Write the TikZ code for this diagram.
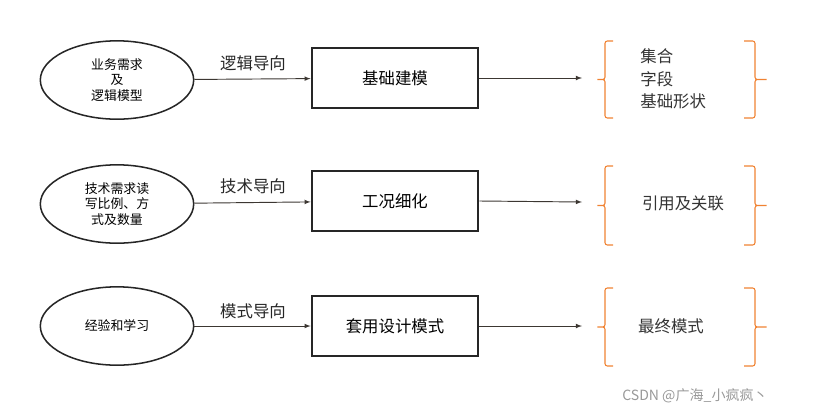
\documentclass[tikz,border=0pt]{standalone}
\usepackage{fontspec}
\setmainfont{Noto Sans CJK SC}
\usetikzlibrary{shapes.geometric}
\definecolor{braceorange}{RGB}{240,130,50}
\definecolor{linegray}{RGB}{60,55,50}
\begin{document}
\begin{tikzpicture}[x=0.03cm,y=-0.03cm,>=latex,thick]
\tikzset{
  src/.style={draw=black!85,line width=1.3pt,ellipse,minimum width=4.6cm,minimum height=2.35cm,inner sep=0pt,align=center,font=\fontsize{11}{13}\selectfont},
  stage/.style={draw=black!85,line width=1.8pt,minimum width=5cm,minimum height=1.8cm,font=\fontsize{14}{16}\selectfont},
  lbl/.style={font=\fontsize{14}{16}\selectfont,text=black!85},
  res/.style={font=\fontsize{14}{19}\selectfont,text=black!80,align=left},
  brace/.style={draw=braceorange,line width=0.9pt,rounded corners=2pt},
  link/.style={->,draw=linegray,line width=0.8pt}
}
\useasboundingbox (0,0) rectangle (818,415);
\node[src] (e1) at (117,80) {业务需求\\及\\逻辑模型};
\node[src] (e2) at (117,204) {技术需求读\\写比例、方\\式及数量};
\node[src] (e3) at (117,326) {经验和学习};
\node[stage] (b1) at (395,78) {基础建模};
\node[stage] (b2) at (395,201) {工况细化};
\node[stage] (b3) at (395,326) {套用设计模式};
\node[lbl] (l1) at (253,63) {逻辑导向};
\node[lbl] (l2) at (253,186) {技术导向};
\node[lbl] (l3) at (253,311) {模式导向};
\coordinate (t1) at (582,78);
\coordinate (t2) at (582,202);
\coordinate (t3) at (582,326);
\draw[link] (e1) -- (b1);
\draw[link] (e2) -- (b2);
\draw[link] (e3) -- (b3);
\draw[link] (b1.east) -- (t1);
\draw[link] (b2.east) -- (t2);
\draw[link] (b3.east) -- (t3);
% braces
\foreach \yt/\yb in {41/118,166/245,288/366}{
  \draw[brace] (613,\yt) -- (605,\yt) -- (605,{(\yt+\yb)/2}) -- (596,{(\yt+\yb)/2}) -- (605,{(\yt+\yb)/2}) -- (605,\yb) -- (613,\yb);
  \draw[brace] (744,\yt) -- (755,\yt) -- (755,{(\yt+\yb)/2}) -- (768,{(\yt+\yb)/2}) -- (755,{(\yt+\yb)/2}) -- (755,\yb) -- (744,\yb);
}
\node[res,anchor=west] (r1) at (636,79) {集合\\字段\\基础形状};
\node[res] (r2) at (683,203) {引用及关联};
\node[res] (r3) at (671,326) {最终模式};
\node[text=black!40,font=\fontsize{12}{14}\selectfont] (wm) at (695,396) {CSDN @广海\_小疯疯丶};
\end{tikzpicture}
\end{document}
